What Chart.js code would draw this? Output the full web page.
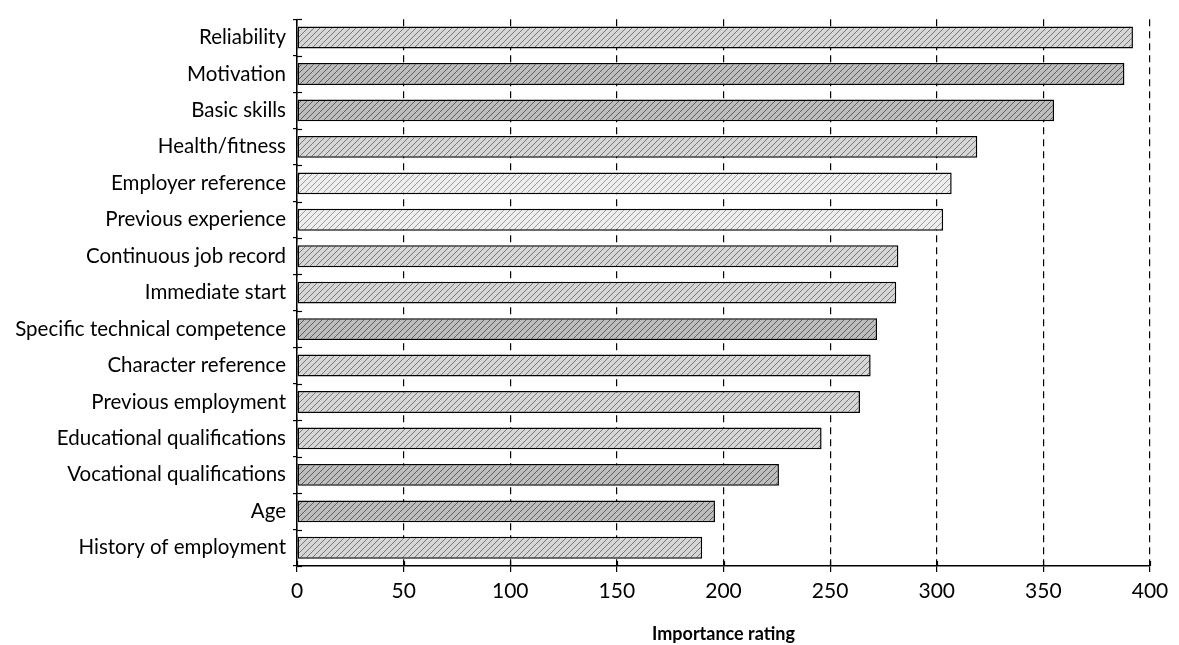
<!DOCTYPE html>
<html>
<head>
<meta charset="utf-8">
<script src="https://cdn.jsdelivr.net/npm/chart.js@4"></script>
<style>
  html, body { margin: 0; padding: 0; background: #fff; }
  #wrap { width: 1179px; height: 645px; position: relative; }
</style>
</head>
<body>
<div id="wrap"><canvas id="chart"></canvas></div>
<script>
const categories = [
  'Reliability', 'Motivation', 'Basic skills', 'Health/fitness',
  'Employer reference', 'Previous experience', 'Continuous job record',
  'Immediate start', 'Specific technical competence', 'Character reference',
  'Previous employment', 'Educational qualifications',
  'Vocational qualifications', 'Age', 'History of employment'
];
const ratings = [392, 388, 355, 319, 307, 303, 282, 281, 272, 269, 264, 246, 226, 196, 190];
const xTicks = [0, 50, 100, 150, 200, 250, 300, 350, 400];
const xTitle = 'Importance rating';

// how dark the scanned hatching looks on each bar (style only)
const shade = [2, 3, 3, 2, 1, 1, 2, 2, 3, 2, 2, 2, 3, 3, 2];

function hatch(level) {
  const c = document.createElement('canvas');
  c.width = 6; c.height = 6;
  const g = c.getContext('2d');
  g.fillStyle = level === 1 ? '#eeeeee' : level === 2 ? '#d6d6d6' : '#bdbdbd';
  g.fillRect(0, 0, 6, 6);
  g.strokeStyle = level === 1 ? '#9a9a9a' : level === 2 ? '#777' : '#5c5c5c';
  g.lineWidth = 1;
  g.beginPath();
  g.moveTo(0, 6); g.lineTo(6, 0);
  g.moveTo(-3, 3); g.lineTo(3, -3);
  g.moveTo(3, 9); g.lineTo(9, 3);
  g.stroke();
  return g.createPattern(c, 'repeat');
}

// small ticks that cross the axes, like the printed figure
const crossTicks = {
  id: 'crossTicks',
  afterDatasetsDraw(chart) {
    const xs = chart.scales.x, ys = chart.scales.y;
    const g = chart.ctx;
    g.save();
    g.strokeStyle = '#000';
    g.lineWidth = 1.2;
    xTicks.forEach(v => {
      const px = Math.round(xs.getPixelForValue(v)) + 0.5;
      g.beginPath();
      g.moveTo(px, xs.top - 5);
      g.lineTo(px, xs.top);
      g.stroke();
    });
    for (let i = 0; i <= categories.length; i++) {
      const py = Math.round(ys.getPixelForValue(i - 0.5)) + 0.5;
      g.beginPath();
      g.moveTo(ys.right, py);
      g.lineTo(ys.right + 5, py);
      g.stroke();
    }
    g.restore();
  }
};

const ctx = document.getElementById('chart').getContext('2d');
new Chart(ctx, {
  type: 'bar',
  data: {
    labels: categories,
    datasets: [{
      data: ratings,
      backgroundColor: shade.map(hatch),
      borderColor: '#000',
      borderWidth: 1.5,
      borderSkipped: false,
      categoryPercentage: 1,
      barPercentage: 0.6
    }]
  },
  options: {
    indexAxis: 'y',
    responsive: true,
    maintainAspectRatio: false,
    animation: false,
    layout: { padding: { top: 14, right: 29, left: 0, bottom: 0 } },
    plugins: { legend: { display: false }, tooltip: { enabled: false } },
    scales: {
      x: {
        min: 0, max: 400,
        afterBuildTicks: s => { s.ticks = xTicks.map(v => ({ value: v })); },
        grid: {
          color: '#000', lineWidth: 1.2,
          tickColor: '#000', tickBorderDash: [], tickLength: 6,
          drawTicks: true
        },
        border: { display: true, color: '#000', width: 1.5, dash: [7, 5] },
        ticks: { color: '#000', font: { family: 'Lato', size: 21 }, padding: 7 },
        title: {
          display: true, text: xTitle, color: '#000',
          font: { family: 'Lato', size: 18, weight: 'bold' },
          padding: { top: 10, bottom: 0 }
        },
        afterFit: s => { s.height = 79; }
      },
      y: {
        grid: {
          drawOnChartArea: false, color: '#000', tickLength: 4, lineWidth: 1.2
        },
        border: { display: true, color: '#000', width: 1.5 },
        ticks: { color: '#000', font: { family: 'Lato', size: 20.5 }, padding: 7 },
        afterFit: s => { s.width = 297; }
      }
    }
  },
  plugins: [crossTicks]
});
</script>
</body>
</html>
